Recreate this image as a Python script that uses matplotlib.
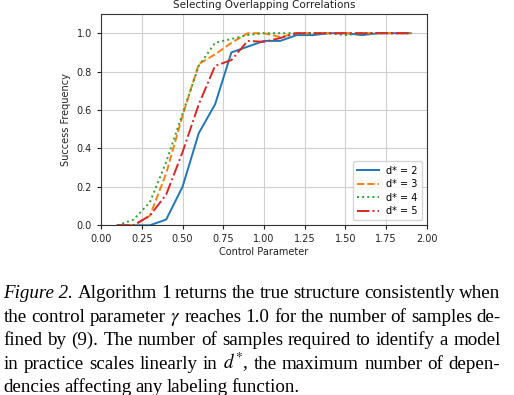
import numpy as np
import matplotlib
matplotlib.use('Agg')
import matplotlib.pyplot as plt

# control parameter values
ctrl = [0.1, 0.2, 0.3, 0.4, 0.5, 0.6, 0.7, 0.8, 0.9, 1.0,
        1.1, 1.2, 1.3, 1.4, 1.5, 1.6, 1.7, 1.8, 1.9]

# success frequency for each d*
d2 = [0.0, 0.0, 0.0, 0.03, 0.20, 0.48, 0.63, 0.90, 0.93, 0.96,
      0.96, 0.99, 0.99, 1.0, 1.0, 0.99, 1.0, 1.0, 1.0]
d3 = [0.0, 0.0, 0.05, 0.27, 0.57, 0.84, 0.89, 0.95, 1.0, 1.0,
      0.98, 1.0, 1.0, 1.0, 1.0, 1.0, 1.0, 1.0, 1.0]
d4 = [0.0, 0.03, 0.12, 0.33, 0.58, 0.83, 0.95, 0.97, 0.99, 1.0,
      1.0, 1.0, 1.0, 1.0, 0.99, 1.0, 1.0, 1.0, 1.0]
d5 = [0.0, 0.0, 0.05, 0.16, 0.38, 0.63, 0.83, 0.86, 0.96, 0.955,
      0.975, 1.0, 1.0, 1.0, 1.0, 1.0, 1.0, 1.0, 1.0]

series = [(d2, 'd* = 2', '-', 'C0'), (d3, 'd* = 3', '--', 'C1'),
          (d4, 'd* = 4', ':', 'C2'), (d5, 'd* = 5', '-.', 'C3')]

xticks = [0.0, 0.25, 0.5, 0.75, 1.0, 1.25, 1.5, 1.75, 2.0]
yticks = [0.0, 0.2, 0.4, 0.6, 0.8, 1.0]

caption = [
    [('Figure 2.', 'italic'), ('Algorithm', 'normal'), ('1', 'normal'), ('returns', 'normal'),
     ('the', 'normal'), ('true', 'normal'), ('structure', 'normal'),
     ('consistently', 'normal'), ('when', 'normal')],
    'the control parameter $\\gamma$ reaches 1.0 for the number of samples de-',
    'fined by (9). The number of samples required to identify a model',
    'in practice scales linearly in $d^{*}$, the maximum number of depen-',
    'dencies affecting any labeling function.',
]

W, H = 514, 395
plt.rcParams['mathtext.fontset'] = 'stix'
fig = plt.figure(figsize=(W / 100, H / 100), dpi=100)
ax = fig.add_axes([101 / W, 1 - 225.3 / H, 326 / W, 211.3 / H])

for vals, lab, ls, col in series:
    ax.plot(ctrl, vals, linestyle=ls, color=col, label=lab, linewidth=1.4)

ax.set_xlim(0, 2.0)
ax.set_ylim(0, 1.1)
ax.set_xticks(xticks)
ax.set_yticks(yticks)
ax.set_xticklabels(['%.2f' % v for v in xticks])
ax.set_yticklabels(['%.1f' % v for v in yticks])
ax.tick_params(labelsize=7, length=3, width=0.8, colors='#222222')
ax.grid(True, color='#cfcfcf', linewidth=0.8)
for s in ax.spines.values():
    s.set_color('#333333')
    s.set_linewidth(0.8)
ax.set_title('Selecting Overlapping Correlations', fontsize=7.5, pad=4.5, color='#222222')
ax.set_xlabel('Control Parameter', fontsize=7, labelpad=2, color='#222222')
ax.set_ylabel('Success Frequency', fontsize=7, labelpad=4, color='#222222')
ax.legend(loc='lower right', fontsize=7, handlelength=2.3, borderpad=0.45,
          labelspacing=0.35, handletextpad=0.7)

# caption, drawn word by word so each line is justified
fig.canvas.draw()
r = fig.canvas.get_renderer()
left, right = 3.5, 500.5
base = 298.5
step = 23.4
for i, line in enumerate(caption):
    if isinstance(line, str):
        tokens = [(w, 'normal') for w in line.split(' ')]
    else:
        tokens = line
    y = 1 - (base + i * step) / H
    texts = [fig.text(0, y, s, fontsize=13.7, family='Liberation Serif',
                      style=st, va='baseline', ha='left') for s, st in tokens]
    widths = [t.get_window_extent(r).width for t in texts]
    if i < len(caption) - 1:
        gap = (right - left - sum(widths)) / (len(texts) - 1)
    else:
        gap = 3.8
    x = left
    for t, w in zip(texts, widths):
        t.set_x(x / W)
        x += w + gap

fig.savefig('out.png', dpi=100)
